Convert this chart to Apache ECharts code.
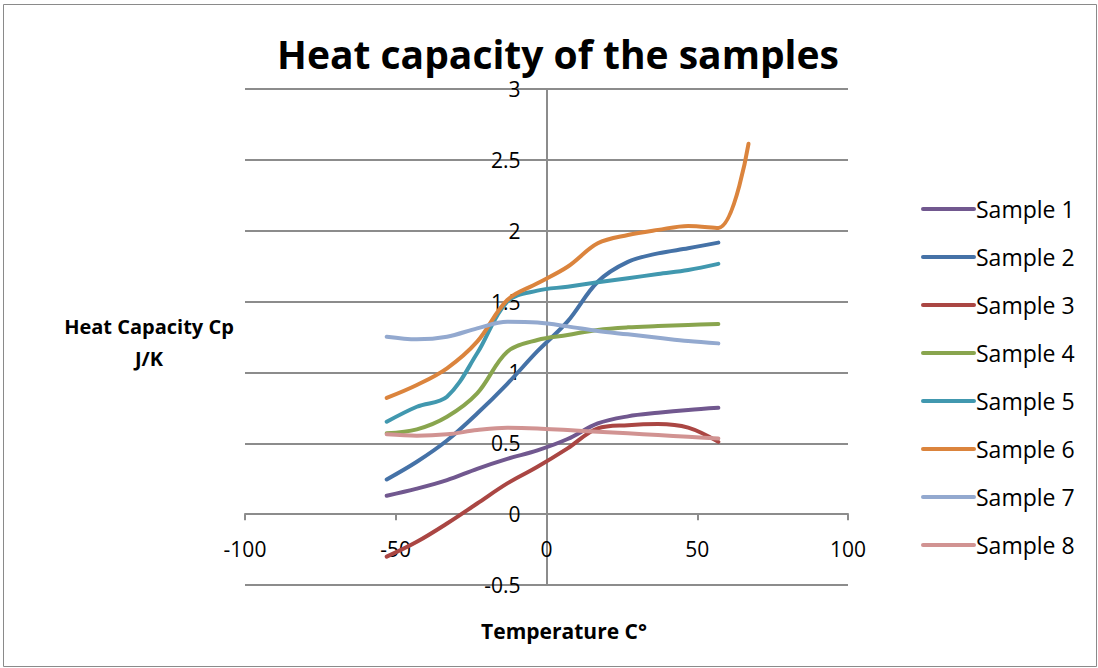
<!DOCTYPE html>
<html><head><meta charset="utf-8">
<script src="https://cdn.jsdelivr.net/npm/echarts@6/dist/echarts.min.js"></script>
<style>html,body{margin:0;padding:0;background:#fff}#c{width:1098px;height:668px}</style>
</head><body><div id="c"></div>
<script>
const temps = [-53,-43,-33,-23,-13,-3,7,17,27,37,47,57];
const temps6 = [-53,-43,-33,-23,-13,-3,7,17,27,37,47,57,67];
const seriesNames = ['Sample 1','Sample 2','Sample 3','Sample 4','Sample 5','Sample 6','Sample 7','Sample 8'];
const sample1 = [0.13,0.18,0.24,0.32,0.39,0.45,0.53,0.64,0.69,0.715,0.735,0.75];
const sample2 = [0.245,0.37,0.52,0.71,0.92,1.15,1.36,1.64,1.78,1.84,1.876,1.916];
const sample3 = [-0.3,-0.195,-0.066,0.075,0.217,0.334,0.464,0.605,0.628,0.636,0.61,0.51];
const sample4 = [0.57,0.598,0.687,0.852,1.146,1.229,1.264,1.3,1.318,1.327,1.335,1.342];
const sample5 = [0.652,0.758,0.829,1.135,1.5,1.577,1.605,1.636,1.664,1.695,1.723,1.766];
const sample6 = [0.82,0.911,1.029,1.217,1.511,1.629,1.746,1.911,1.97,2.006,2.034,2.02,2.613];
const sample7 = [1.252,1.234,1.252,1.311,1.358,1.352,1.325,1.292,1.269,1.245,1.221,1.205];
const sample8 = [0.563,0.553,0.563,0.593,0.61,0.605,0.593,0.581,0.57,0.558,0.546,0.534];
const xTicks = {min:-100, max:100, interval:50};
const yTicks = {min:-0.5, max:3, interval:0.5};
const colors = ['#71588F','#4572A7','#AA4643','#89A54E','#4198AF','#DB843D','#93A9CF','#D19392'];

const allY = [sample1,sample2,sample3,sample4,sample5,sample6,sample7,sample8];
const FONT = 'Open Sans';
const W = 1098, H = 668;
const G = {left:245, right:250, top:89, bottom:83};
const gw = W - G.left - G.right, gh = H - G.top - G.bottom;
// place axes where the other axis is zero (axes cross at 0,0)
const yAxisOffset = -((0 - xTicks.min) / (xTicks.max - xTicks.min)) * gw;
const xAxisOffset = -((0 - yTicks.min) / (yTicks.max - yTicks.min)) * gh;

const series = allY.map((ys,i)=>{
  const xs = ys.length === temps6.length ? temps6 : temps;
  return {
    name: seriesNames[i], type:'line', smooth:0.35, showSymbol:false, symbol:'none',
    data: ys.map((v,j)=>[xs[j], v]),
    lineStyle:{width:4, color:colors[i], cap:'round', join:'round'},
    itemStyle:{color:colors[i]}, z: 3+i
  };
});

const chart = echarts.init(document.getElementById('c'), null, {renderer:'svg'});
chart.setOption({
  animation:false,
  color:colors,
  title:[
    {text:'Heat capacity of the samples', left:553, top:29, textAlign:'center',
     textStyle:{fontFamily:FONT, fontWeight:'bold', fontSize:39, color:'#000'}},
    {text:'Heat Capacity Cp\nJ/K', left:144, top:305, textAlign:'center',
     textStyle:{fontFamily:FONT, fontWeight:'bold', fontSize:20, lineHeight:32, color:'#000', align:'center'}},
    {text:'Temperature C°', left:559, top:615, textAlign:'center',
     textStyle:{fontFamily:FONT, fontWeight:'bold', fontSize:21, color:'#000'}}
  ],
  grid:{left:G.left, right:G.right, top:G.top, bottom:G.bottom, containLabel:false},
  xAxis:{type:'value', min:xTicks.min, max:xTicks.max, interval:xTicks.interval,
    position:'bottom', offset:xAxisOffset,
    axisLine:{onZero:false, lineStyle:{color:'#8c8c8c', width:2}},
    axisTick:{show:true, length:6, lineStyle:{color:'#8c8c8c', width:2}},
    splitLine:{show:false},
    axisLabel:{margin:24, fontFamily:FONT, fontSize:21, color:'#000'}},
  yAxis:{type:'value', min:yTicks.min, max:yTicks.max, interval:yTicks.interval,
    position:'left', offset:yAxisOffset,
    axisLine:{onZero:false, lineStyle:{color:'#8c8c8c', width:2}},
    axisTick:{show:true, length:4, lineStyle:{color:'#8c8c8c', width:2}},
    splitLine:{show:true, lineStyle:{color:'#8c8c8c', width:2}},
    axisLabel:{margin:26, fontFamily:FONT, fontSize:21, color:'#000'}},
  legend:{orient:'vertical', left:916, top:192, itemGap:24, itemWidth:55, itemHeight:24,
    icon:'path://M2,10 L53,10 A2,2 0 0 1 53,14 L2,14 A2,2 0 0 1 2,10 Z',
    textStyle:{fontFamily:FONT, fontSize:23, lineHeight:24, color:'#000', padding:[0,0,0,-5]},
    data:seriesNames},
  graphic:[{type:'rect', shape:{x:3.5, y:4.5, width:1093, height:662}, style:{fill:null, stroke:'#8a8a8a', lineWidth:1}, silent:true, z:-1}],
  series
});
</script></body></html>
